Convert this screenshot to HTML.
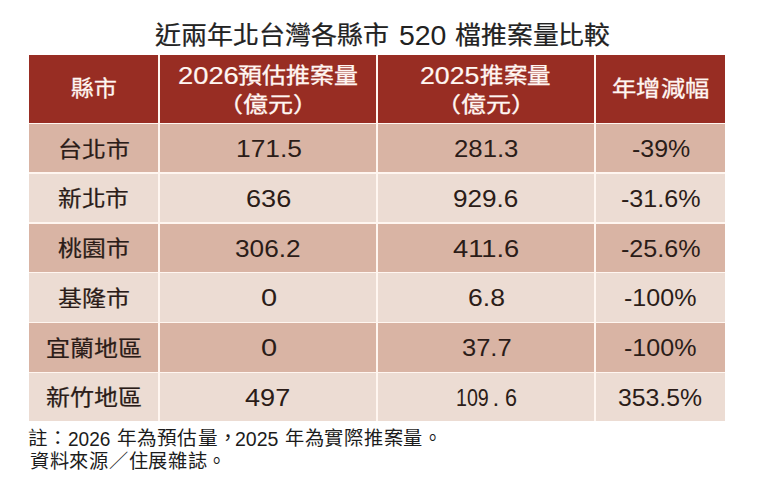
<!DOCTYPE html>
<html lang="zh-TW">
<head>
<meta charset="utf-8">
<title>近兩年北台灣各縣市 520 檔推案量比較</title>
<style>
html,body{margin:0;padding:0;}
body{width:760px;height:490px;position:relative;overflow:hidden;background:#fff;font-family:"Liberation Sans",sans-serif;}
.r{position:absolute;white-space:nowrap;line-height:1;transform-origin:0 0;display:block;}
.bg{position:absolute;}
h1,table,thead,tbody,tr,th,td,p{display:contents;margin:0;padding:0;font-weight:normal;}
.tc{font-size:26px;color:#222;-webkit-text-stroke:0.25px #222;}
.td{font-size:27.8px;color:#222;}
.hc{font-size:24px;color:#fff6f2;-webkit-text-stroke:0.35px #fff6f2;}
.hd{font-size:23.6px;color:#fff6f2;-webkit-text-stroke:0.2px #fff6f2;}
.bc{font-size:24px;color:#2b1c18;-webkit-text-stroke:0.25px #2b1c18;}
.bd{font-size:24px;color:#2b1c18;}
.bn{font-size:24.4px;color:#2b1c18;}
.fc{font-size:19.5px;color:#1c1c1c;}
.fd{font-size:19.5px;color:#1c1c1c;}
</style>
</head>
<body>
<h1><span class="r tc" style="left:155.30px;top:22.67px;transform:scale(1.0004,0.960)">近兩年北台灣各縣市</span> <span class="r td" style="left:398.98px;top:21.85px;transform:scale(1.0227,1.000)">520</span> <span class="r tc" style="left:454.81px;top:22.67px;transform:scale(0.9942,0.960)">檔推案量比較</span></h1>
<div class="bg" style="left:28.50px;top:55.00px;width:696.50px;height:366.00px;background:#fff6f0"></div>
<table>
<thead>
<tr>
<th><div class="bg" style="left:28.50px;top:55.00px;width:129.95px;height:67.95px;background:#982d23"></div><span class="r hc" style="left:70.75px;top:77.82px;transform:scale(0.9522,0.890)">縣市</span></th>
<th><div class="bg" style="left:159.95px;top:55.00px;width:216.40px;height:67.95px;background:#982d23"></div><span class="r hd" style="left:178.34px;top:65.00px;transform:scale(1.1580,1.000)">2026</span><span class="r hc" style="left:238.20px;top:64.82px;transform:scale(0.9966,0.890)">預估推案量</span><span class="r hc" style="left:217.57px;top:93.67px;transform:scale(1.0429,0.890)">（億元）</span></th>
<th><div class="bg" style="left:377.85px;top:55.00px;width:216.40px;height:67.95px;background:#982d23"></div><span class="r hd" style="left:420.17px;top:65.00px;transform:scale(1.1294,1.000)">2025</span><span class="r hc" style="left:480.22px;top:64.82px;transform:scale(0.9800,0.890)">推案量</span><span class="r hc" style="left:435.97px;top:93.67px;transform:scale(1.0429,0.890)">（億元）</span></th>
<th><div class="bg" style="left:595.75px;top:55.00px;width:129.25px;height:67.95px;background:#982d23"></div><span class="r hc" style="left:612.29px;top:77.82px;transform:scale(1.0117,0.890)">年增減幅</span></th>
</tr>
</thead>
<tbody>
<tr>
<td><div class="bg" style="left:28.50px;top:124.45px;width:129.95px;height:47.80px;background:#d9b4a4"></div><span class="r bc" style="left:57.61px;top:138.56px;transform:scale(0.9957,0.895)">台北市</span></td>
<td><div class="bg" style="left:159.95px;top:124.45px;width:216.40px;height:47.80px;background:#d9b4a4"></div><span class="r bd" style="left:235.60px;top:137.20px;transform:scale(1.0982,1.000)">171.5</span></td>
<td><div class="bg" style="left:377.85px;top:124.45px;width:216.40px;height:47.80px;background:#d9b4a4"></div><span class="r bd" style="left:453.83px;top:137.20px;transform:scale(1.0724,1.000)">281.3</span></td>
<td><div class="bg" style="left:595.75px;top:124.45px;width:129.25px;height:47.80px;background:#d9b4a4"></div><span class="r bd" style="left:631.86px;top:137.20px;transform:scale(1.0389,1.000)">-39%</span></td>
</tr>
<tr>
<td><div class="bg" style="left:28.50px;top:173.75px;width:129.95px;height:48.50px;background:#ecdcd3"></div><span class="r bc" style="left:57.61px;top:188.16px;transform:scale(0.9857,0.895)">新北市</span></td>
<td><div class="bg" style="left:159.95px;top:173.75px;width:216.40px;height:48.50px;background:#ecdcd3"></div><span class="r bd" style="left:245.77px;top:186.80px;transform:scale(1.1289,1.000)">636</span></td>
<td><div class="bg" style="left:377.85px;top:173.75px;width:216.40px;height:48.50px;background:#ecdcd3"></div><span class="r bd" style="left:453.41px;top:186.80px;transform:scale(1.0879,1.000)">929.6</span></td>
<td><div class="bg" style="left:595.75px;top:173.75px;width:129.25px;height:48.50px;background:#ecdcd3"></div><span class="r bd" style="left:621.15px;top:186.80px;transform:scale(1.0459,1.000)">-31.6%</span></td>
</tr>
<tr>
<td><div class="bg" style="left:28.50px;top:223.75px;width:129.95px;height:48.00px;background:#d9b4a4"></div><span class="r bc" style="left:57.61px;top:238.16px;transform:scale(0.9914,0.895)">桃園市</span></td>
<td><div class="bg" style="left:159.95px;top:223.75px;width:216.40px;height:48.00px;background:#d9b4a4"></div><span class="r bd" style="left:235.21px;top:236.80px;transform:scale(1.0914,1.000)">306.2</span></td>
<td><div class="bg" style="left:377.85px;top:223.75px;width:216.40px;height:48.00px;background:#d9b4a4"></div><span class="r bd" style="left:452.76px;top:236.80px;transform:scale(1.1375,1.000)">411.6</span></td>
<td><div class="bg" style="left:595.75px;top:223.75px;width:129.25px;height:48.00px;background:#d9b4a4"></div><span class="r bd" style="left:621.15px;top:236.80px;transform:scale(1.0459,1.000)">-25.6%</span></td>
</tr>
<tr>
<td><div class="bg" style="left:28.50px;top:273.25px;width:129.95px;height:48.40px;background:#ecdcd3"></div><span class="r bc" style="left:57.60px;top:287.56px;transform:scale(0.9971,0.895)">基隆市</span></td>
<td><div class="bg" style="left:159.95px;top:273.25px;width:216.40px;height:48.40px;background:#ecdcd3"></div><span class="r bd" style="left:260.59px;top:286.20px;transform:scale(1.2091,1.000)">0</span></td>
<td><div class="bg" style="left:377.85px;top:273.25px;width:216.40px;height:48.40px;background:#ecdcd3"></div><span class="r bd" style="left:468.09px;top:286.20px;transform:scale(1.1065,1.000)">6.8</span></td>
<td><div class="bg" style="left:595.75px;top:273.25px;width:129.25px;height:48.40px;background:#ecdcd3"></div><span class="r bd" style="left:624.06px;top:286.20px;transform:scale(1.0441,1.000)">-100%</span></td>
</tr>
<tr>
<td><div class="bg" style="left:28.50px;top:323.15px;width:129.95px;height:48.50px;background:#d9b4a4"></div><span class="r bc" style="left:46.30px;top:337.66px;transform:scale(0.9989,0.895)">宜蘭地區</span></td>
<td><div class="bg" style="left:159.95px;top:323.15px;width:216.40px;height:48.50px;background:#d9b4a4"></div><span class="r bd" style="left:260.59px;top:336.30px;transform:scale(1.2091,1.000)">0</span></td>
<td><div class="bg" style="left:377.85px;top:323.15px;width:216.40px;height:48.50px;background:#d9b4a4"></div><span class="r bd" style="left:461.64px;top:336.30px;transform:scale(1.0614,1.000)">37.7</span></td>
<td><div class="bg" style="left:595.75px;top:323.15px;width:129.25px;height:48.50px;background:#d9b4a4"></div><span class="r bd" style="left:624.06px;top:336.30px;transform:scale(1.0441,1.000)">-100%</span></td>
</tr>
<tr>
<td><div class="bg" style="left:28.50px;top:373.15px;width:129.95px;height:47.85px;background:#ecdcd3"></div><span class="r bc" style="left:46.30px;top:387.36px;transform:scale(0.9989,0.895)">新竹地區</span></td>
<td><div class="bg" style="left:159.95px;top:373.15px;width:216.40px;height:47.85px;background:#ecdcd3"></div><span class="r bd" style="left:245.37px;top:386.00px;transform:scale(1.1289,1.000)">497</span></td>
<td><div class="bg" style="left:377.85px;top:373.15px;width:216.40px;height:47.85px;background:#ecdcd3"></div><span class="r bn" style="left:455.89px;top:386.00px;transform:scale(0.8053,1.000)">109</span><span class="r bn" style="left:492.55px;top:386.00px;transform:scale(1.0000,1.000)">.</span><span class="r bn" style="left:504.52px;top:386.00px;transform:scale(0.8833,1.000)">6</span></td>
<td><div class="bg" style="left:595.75px;top:373.15px;width:129.25px;height:47.85px;background:#ecdcd3"></div><span class="r bd" style="left:618.17px;top:386.00px;transform:scale(1.0325,1.000)">353.5%</span></td>
</tr>
</tbody>
</table>
<p><span class="r fc" style="left:28.10px;top:429.07px;transform:scale(1.0000,0.970)">註：</span><span class="r fd" style="left:68.22px;top:429.50px;transform:scale(0.9786,1.000)">2026</span> <span class="r fc" style="left:117.39px;top:429.07px;transform:scale(1.0081,0.970)">年為預估量，</span><span class="r fd" style="left:235.20px;top:429.50px;transform:scale(1.0024,1.000)">2025</span> <span class="r fc" style="left:285.21px;top:429.07px;transform:scale(0.9868,0.970)">年為實際推案量。</span></p>
<p><span class="r fc" style="left:30.01px;top:451.97px;transform:scale(0.9859,0.970)">資料來源／住展雜誌。</span></p>
</body>
</html>
